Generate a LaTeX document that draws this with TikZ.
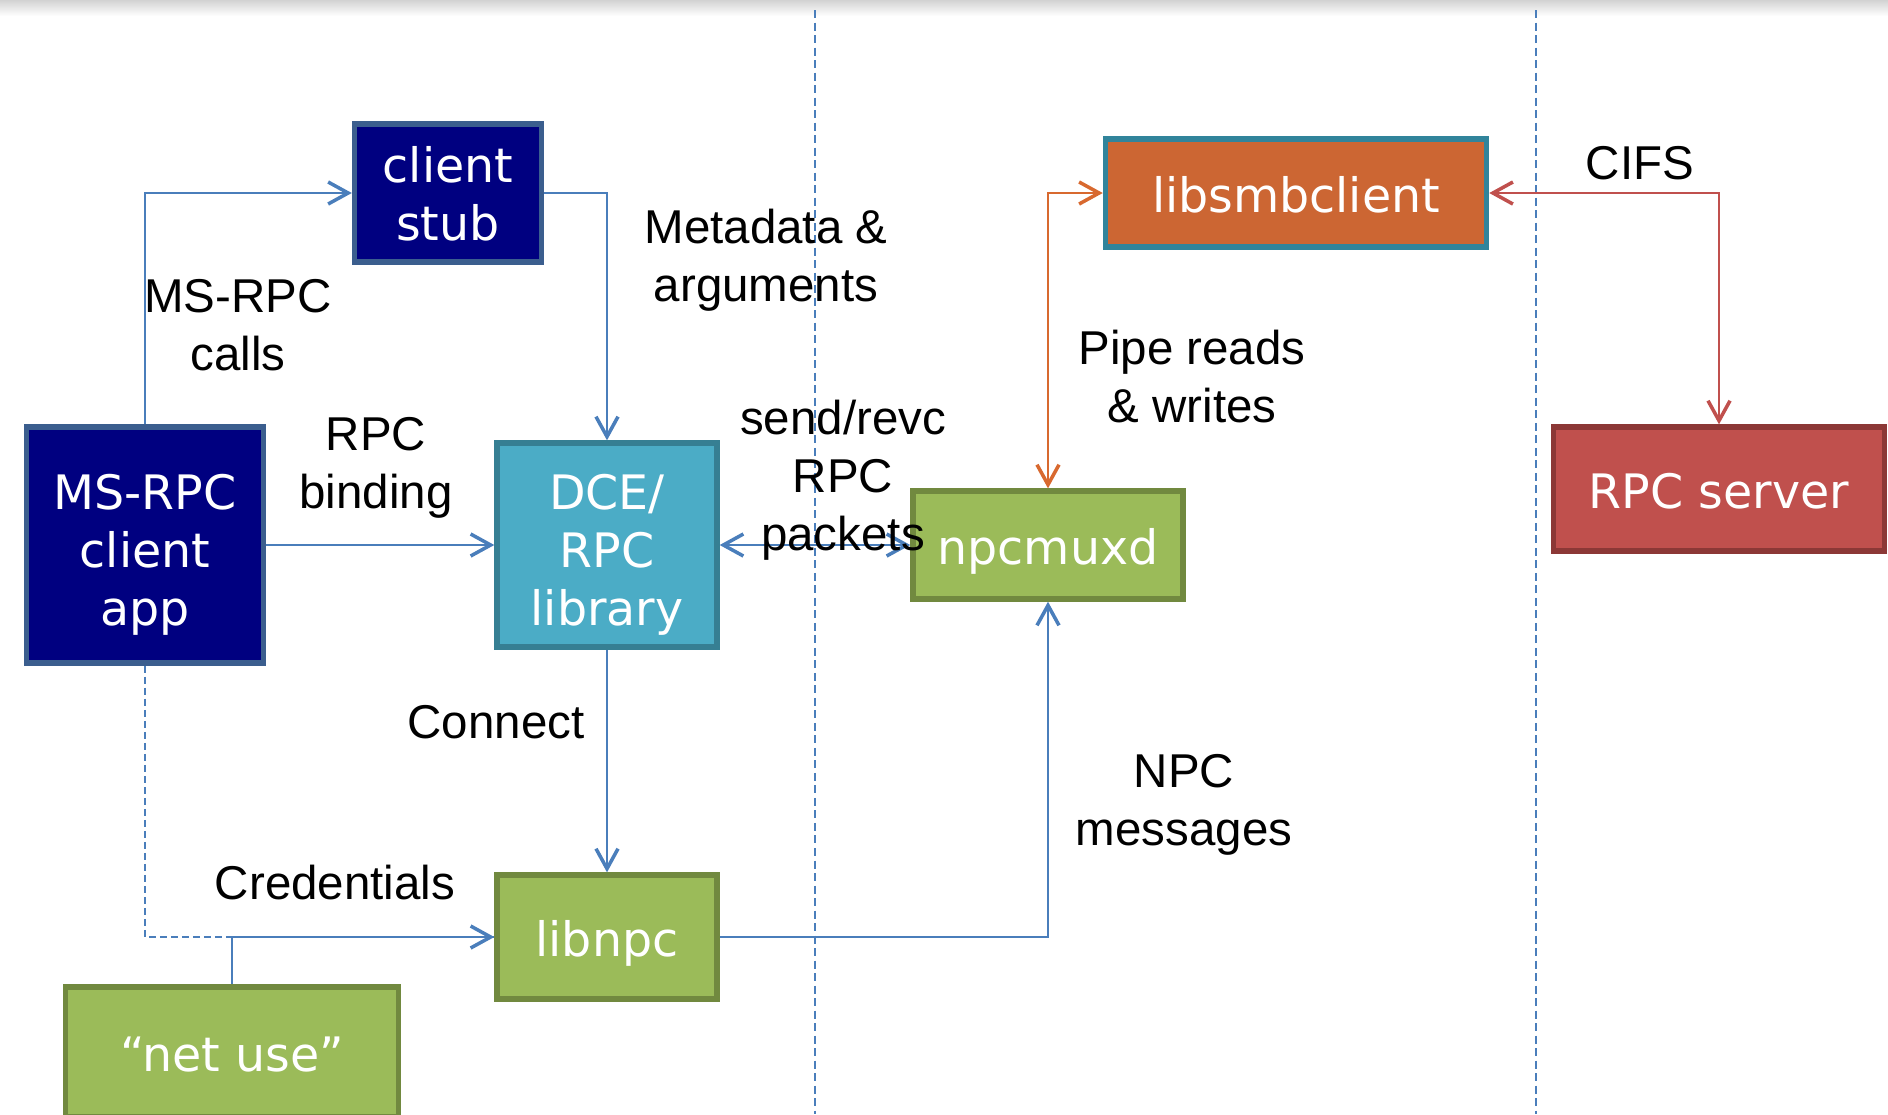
\documentclass[tikz,border=0pt]{standalone}
\usepackage{fontspec}
\setmainfont{Liberation Sans}
\newfontfamily\boxfont{DejaVu Sans}
\usetikzlibrary{arrows.meta}
\definecolor{navyfill}{HTML}{000080}
\definecolor{navyline}{HTML}{3B5E8E}
\definecolor{dcefill}{HTML}{4BACC6}
\definecolor{dceline}{HTML}{367F93}
\definecolor{grnfill}{HTML}{9BBB59}
\definecolor{grnline}{HTML}{71893F}
\definecolor{smbfill}{HTML}{CC6633}
\definecolor{smbline}{HTML}{31849B}
\definecolor{srvfill}{HTML}{C0504D}
\definecolor{srvline}{HTML}{8C3836}
\definecolor{lineblue}{HTML}{4A7EBB}
\definecolor{lineorange}{HTML}{D8692F}
\definecolor{linered}{HTML}{C0504D}
\newcommand{\topstrut}{\rule{0pt}{12.6pt}}
\begin{document}
\begin{tikzpicture}[x=0.01cm, y=-0.01cm,
    >={Straight Barb[length=2mm, width=2.2mm, line width=1pt]},
    every node/.style={font=\fontsize{13.5}{16.5}\selectfont, align=center},
    box/.style={draw, line width=1.5pt, text=white, inner sep=0pt,
        font=\boxfont\fontsize{13.5}{16.5}\selectfont},
    onebox/.style={box, text height=12pt, text depth=1.2pt},
    tallbox/.style={box, text depth=-1.3pt},
    greenbox/.style={onebox, fill=grnfill, draw=grnline},
    conn/.style={draw=lineblue, line width=0.7pt, ->},
    border/.style={draw=lineblue, line width=0.8pt, dash pattern=on 0.08cm off 0.045cm}]
    \useasboundingbox (0,0) rectangle (1888,1114);
    \shade[top color=gray!35, bottom color=white] (0,0) rectangle (1888,16);
    % machine borders
    \draw[border] (815,10) -- (815,1114);
    \draw[border] (1536,10) -- (1536,1114);
    % boxes
    \node[tallbox, fill=navyfill, draw=navyline, minimum width=2.37cm, minimum height=2.36cm] (app) at (145,545) {\topstrut MS-RPC\\client\\app};
    \node[tallbox, fill=navyfill, draw=navyline, minimum width=1.87cm, minimum height=1.38cm] (stub) at (448,193) {client\\stub};
    \node[tallbox, fill=dcefill, draw=dceline, minimum width=2.2cm, minimum height=2.04cm] (dce) at (607,545) {\topstrut DCE/\\RPC\\library};
    \node[greenbox, minimum width=2.2cm, minimum height=1.24cm] (libnpc) at (607,937) {libnpc};
    \node[greenbox, minimum width=3.33cm, minimum height=1.3cm] (netuse) at (232,1052) {“net use”};
    \node[greenbox, minimum width=2.7cm, minimum height=1.08cm] (npc) at (1048,545) {npcmuxd};
    \node[onebox, fill=smbfill, draw=smbline, minimum width=3.81cm, minimum height=1.08cm] (smb) at (1296,193) {libsmbclient};
    \node[onebox, fill=srvfill, draw=srvline, minimum width=3.31cm, minimum height=1.24cm] (srv) at (1719,489) {RPC server};
    % connectors
    \draw[conn] (app.north) |- (stub.west);
    \draw[conn] (stub.east) -| (dce.north);
    \draw[conn] (app.east) -- (dce.west);
    \draw[conn, <->] (dce.east) -- (npc.west);
    \draw[conn] (dce.south) -- (libnpc.north);
    \draw[conn, dash pattern=on 0.07cm off 0.04cm] (app.south) |- (libnpc.west);
    \draw[conn, -] (netuse.north) |- (libnpc.west);
    \draw[conn] (libnpc.east) -| (npc.south);
    \draw[conn, draw=lineorange, <->] (smb.west) -| (npc.north);
    \draw[conn, draw=linered, <->] (smb.east) -| (srv.north);
    % labels
    \node (callslbl) at (238,325) {MS-RPC\\calls};
    \node (metalbl) at (766,260) {Metadata \&\\arguments};
    \node (bindlbl) at (376,468) {RPC\\binding};
    \node (sendlbl) at (843,480) {send/revc\\RPC\\packets};
    \node (pipelbl) at (1192,377) {Pipe reads\\\& writes};
    \node (cifslbl) at (1640,163) {CIFS};
    \node (connlbl) at (496,722) {Connect};
    \node (npclbl) at (1184,805) {NPC\\messages};
    \node (credlbl) at (335,883) {Credentials};
\end{tikzpicture}
\end{document}
